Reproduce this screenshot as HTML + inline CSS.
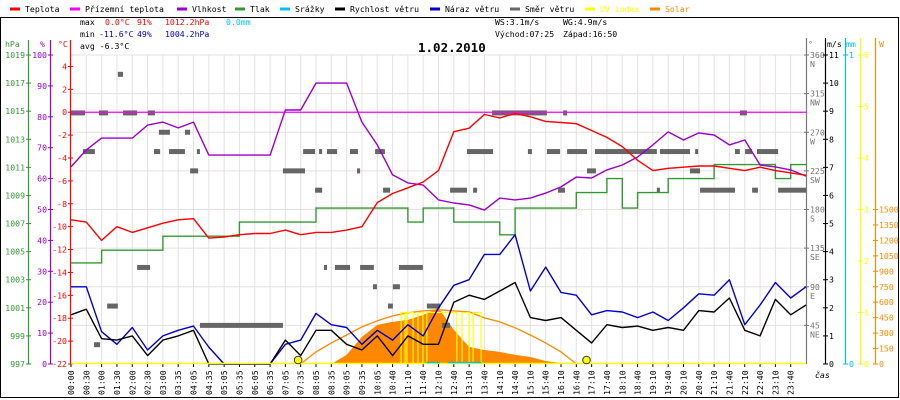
<!DOCTYPE html>
<html><head><meta charset="utf-8"><title>Weather 1.02.2010</title>
<style>
html,body{margin:0;padding:0;background:#fff;}
svg{display:block;font-family:"DejaVu Sans Mono","Liberation Mono",monospace;font-size:8.2px;}
</style></head>
<body>
<svg id="chart" width="900" height="400" viewBox="0 0 900 400" xmlns="http://www.w3.org/2000/svg">
<rect x="0" y="0" width="900" height="400" fill="#fff"/>
<rect x="0.5" y="17.5" width="898" height="380" fill="none" stroke="#000" stroke-width="1"/>
<g id="legend"></g>
<g>
<text x="80" y="25" fill="#000">max</text>
<text x="105" y="25" fill="#f00">0.0°C</text>
<text x="137" y="25" fill="#f00">91%</text>
<text x="165" y="25" fill="#f00">1012.2hPa</text>
<text x="226" y="25" fill="#00bfff">0.0mm</text>
<text x="80" y="37" fill="#000">min</text>
<text x="99" y="37" fill="#00c">-11.6°C</text>
<text x="137" y="37" fill="#00c">49%</text>
<text x="165" y="37" fill="#00c">1004.2hPa</text>
<text x="80" y="49" fill="#000">avg -6.3°C</text>
<text x="495" y="25" fill="#000">WS:3.1m/s</text>
<text x="563" y="25" fill="#000">WG:4.9m/s</text>
<text x="495" y="37" fill="#000">Východ:07:25</text>
<text x="563" y="37" fill="#000">Západ:16:50</text>
</g>
<text x="418" y="52" font-size="12.5px" font-weight="bold" fill="#000">1.02.2010</text>
<g id="grid"></g>
<g id="axes"></g>
<g id="series"></g>
</svg>
<script>
// ---- data (half-hour samples, k = 0..48) ----
const xLabels = ["00:00","00:30","01:00","01:30","02:00","02:30","03:00","03:35","04:05","04:35","05:05","05:35","06:05","06:35","07:05","07:35","08:05","08:35","09:05","09:35","10:05","10:40","11:10","11:40","12:10","12:40","13:10","13:40","14:10","14:40","15:10","15:40","16:10","16:40","17:10","17:40","18:10","18:40","19:10","19:40","20:10","20:40","21:10","21:40","22:10","22:40","23:10","23:40"];
const temperature = [-9.4,-9.6,-11.2,-10.0,-10.5,-10.1,-9.7,-9.4,-9.3,-11.0,-10.9,-10.7,-10.6,-10.6,-10.3,-10.7,-10.5,-10.5,-10.3,-10.0,-7.9,-7.1,-6.6,-6.1,-5.1,-1.7,-1.4,-0.2,-0.5,-0.1,-0.4,-0.8,-0.9,-1.0,-1.6,-2.2,-3.0,-4.2,-5.1,-4.9,-4.8,-4.7,-4.7,-4.9,-5.1,-4.8,-5.1,-5.3,-5.5];
const groundTemp = [0,0];
const humidity = [63.8,69.3,73.1,73.1,73.1,77.3,78.3,76.4,78.3,67.6,67.6,67.6,67.6,67.6,82.2,82.2,90.9,90.9,90.9,78.3,70.9,61.2,58.6,57.9,53.1,52.1,51.5,49.8,53.7,53.1,53.7,55.3,57.3,60.5,60.2,62.8,64.4,67.0,70.9,75.1,72.5,74.8,74.1,70.9,72.5,64.4,63.8,62.8,60.8];
const pressure = [1004.2,1004.2,1005.1,1005.1,1005.1,1005.1,1006.1,1006.1,1006.1,1006.1,1006.1,1007.1,1007.1,1007.1,1007.1,1007.1,1008.1,1008.1,1008.1,1008.1,1008.1,1008.1,1007.1,1008.1,1008.1,1007.1,1007.1,1007.1,1006.2,1008.1,1008.1,1008.1,1008.1,1009.2,1009.2,1010.2,1008.1,1009.2,1009.2,1010.2,1010.2,1010.2,1011.2,1011.2,1011.2,1011.2,1010.2,1011.2,1011.2];
const windSpeed = [1.75,1.95,0.9,0.85,1.0,0.3,0.85,1.0,1.2,0,0,0,0,0,0.85,0.3,1.2,1.2,0.7,0.5,1.0,0.3,1.0,0.7,0.7,2.2,2.45,2.3,2.6,2.9,1.65,1.55,1.65,1.2,0.75,1.4,1.3,1.35,1.2,1.3,1.2,1.9,1.85,2.35,1.2,1.0,2.3,1.75,2.1];
const windGust = [2.75,2.75,1.15,0.7,1.3,0.5,1.0,1.2,1.35,0.6,0,0,0,0,0.7,0.85,1.8,1.4,1.3,0.7,1.2,0.85,1.4,1.0,2.0,2.8,3.0,3.9,3.9,4.6,2.6,3.45,2.55,2.45,1.75,1.9,1.85,1.65,1.85,1.55,2.0,2.5,2.45,3.0,1.4,2.1,2.9,2.35,2.75];
const solar = [0,0,0,0,0,0,0,0,0,0,0,0,0,0,0,0,0,0,88,263,380,409,428,477,545,331,166,136,117,88,68,29,10,0,0,0,0,0,0,0,0,0,0,0,0,0,0,0,0];
const solarMax = [null,null,null,null,null,null,null,null,null,null,null,null,null,null,null,0,117,205,282,360,419,467,497,516,526,516,506,448,409,351,282,205,117,0,null,null,null,null,null,null,null,null,null,null,null,null,null,null,null];
// wind direction segments (hours, degrees)
const dirStart = [1.53,0,0.91,1.70,2.51,2.87,3.72,0.39,2.71,3.20,4.11,3.89,6.92,7.58,8.10,8.36,9.11,9.93,9.34,7.97,10.19,2.16,8.26,8.62,9.44,10.71,9.86,10.51,1.18,10.35,11.62,0.75,4.21,12.11,13.75,16.07,21.84,12.93,14.92,15.54,16.20,17.11,19.23,20.38,21.68,22.01,22.40,16.85,20.21,12.38,13.13,15.90,19.13,20.54,22.24,23.09];
const dirEnd   = [1.70,0.46,1.21,2.16,2.74,3.23,3.89,0.78,2.91,3.72,4.21,4.15,7.64,7.97,8.20,8.69,9.37,10.25,9.44,8.20,10.42,2.58,8.36,9.11,9.89,11.49,9.99,10.74,1.53,10.51,12.05,0.95,6.92,12.38,15.54,16.20,22.07,13.78,15.05,15.97,16.85,19.13,20.21,20.47,21.84,22.24,23.09,17.14,20.54,12.93,13.26,16.13,19.23,21.68,22.43,24.0];
const dirDeg   = [337.5,292.5,292.5,292.5,292.5,270,270,247.5,247.5,247.5,247.5,225,225,247.5,247.5,247.5,247.5,247.5,225,202.5,202.5,112.5,112.5,112.5,112.5,112.5,90,90,67.5,67.5,67.5,22.5,45,45,292.5,292.5,292.5,247.5,247.5,247.5,247.5,247.5,247.5,247.5,247.5,247.5,247.5,225,225,202.5,202.5,202.5,202.5,202.5,202.5,202.5];
const uvStart = [10.78,10.97,11.33,11.62,12.77,13.13];
const uvEnd   = [10.91,11.17,11.49,12.60,13.00,13.39];
const uvValue = [1.0,1.0,1.0,1.0,1.0,1.0];
const rainStart = [11.6,12.3];
const rainEnd = [12.05,13.4];
const sunTimes = [7.417,16.833];
const pressTicks = [1019,1017,1015,1013,1011,1009,1007,1005,1003,1001,999,997];
const humTicks = [100,90,80,70,60,50,40,30,20,10,0];
const tempTicks = [4,2,0,-2,-4,-6,-8,-10,-12,-14,-16,-18,-20,-22];
const dirTicks = [360,315,270,225,180,135,90,45];
const dirNames = ["N","NW","W","SW","S","SE","E","NE"];
const wsTicks = [11,10,9,8,7,6,5,4,3,2,1,0];
const uvTicks = [6,5,4,3,2,1,0];
const solarTicks = [1500,1350,1200,1050,900,750,600,450,300,150,0];

// ---- scales ----
const TOP=55, BOT=364, LEFT=71, RIGHT=806;
const xT = t => LEFT + t*(RIGHT-LEFT)/24;
const xK = k => xT(k/2);
const yT = v => TOP + (5-v)*(BOT-TOP)/27;
const yH = v => TOP + (100-v)*(BOT-TOP)/100;
const yP = v => TOP + (1019-v)*(BOT-TOP)/22;
const yW = v => BOT - v*(BOT-TOP)/11;
const yD = v => BOT - v*(BOT-TOP)/360;
const yUV = v => BOT - v*(BOT-TOP)/6;
const yS = v => BOT - v*(BOT-TOP)/3000;

const NS="http://www.w3.org/2000/svg";
function mk(parent, tag, attrs){const e=document.createElementNS(NS,tag);for(const a in attrs)e.setAttribute(a,attrs[a]);parent.appendChild(e);return e;}
const gGrid=document.getElementById('grid'), gAx=document.getElementById('axes'), gS=document.getElementById('series'), gL=document.getElementById('legend');

// legend
const legNames=["Teplota","Přízemní teplota","Vlhkost","Tlak","Srážky","Rychlost větru","Náraz větru","Směr větru","UV index","Solar"];
const legColors=["#f00","#f0f","#90c","#393","#00bfff","#000","#00c","#666","#ff0","#f80"];
const legX=[10,70,177,235,280,335,430,510,585,650];
legNames.forEach((n,i)=>{
  const g=mk(gL,'g',{});
  
  
  mk(g,'rect',{x:legX[i],y:7.5,width:10,height:3,fill:legColors[i]});
  const t=mk(g,'text',{x:legX[i]+15,y:12,fill:(i>=8?legColors[i]:'#000')});
  t.textContent=n;
});

// grid
for(let k=1;k<48;k++){
  const l=mk(gGrid,'line',{x1:xK(k),x2:xK(k),y1:TOP,y2:BOT,stroke:'#e6e0e0','stroke-width':1});
  
  
}
for(let j=0;j<8;j++){
  const y=TOP+j*(BOT-TOP)/8;
  const l=mk(gGrid,'line',{x1:LEFT,x2:RIGHT,y1:y,y2:y,stroke:'#e6e0e0','stroke-width':1});
  
  
}

// left axes
function axis(x,color,ticks,scale,labelRight,name,top){
  const g=mk(gAx,'g',{});
  
  
  mk(g,'line',{x1:x,x2:x,y1:top,y2:BOT,stroke:color,'stroke-width':1.2});
  ticks.forEach(v=>{
    const y=scale(v);
    mk(g,'line',{x1:x-2.5,x2:x+2.5,y1:y,y2:y,stroke:color,'stroke-width':1});
    const t=mk(g,'text',labelRight?{x:x+3.5,y:y+3,fill:color}:{x:x-3.5,y:y+3,fill:color,'text-anchor':'end'});
    t.textContent=v;
  });
  return g;
}
axis(28.5,'#393',pressTicks,yP,false,'pressure-axis',40);
axis(50.5,'#90c',humTicks,yH,false,'humidity-axis',40);
axis(70.5,'#f00',tempTicks,yT,false,'temperature-axis',40);
[[5,'hPa','#393'],[40,'%','#90c'],[58,'°C','#f00']].forEach(a=>{const t=mk(gAx,'text',{x:a[0],y:47,fill:a[2]});t.textContent=a[1];});

// right axes
const gd=axis(806.5,'#777',dirTicks,yD,true,'direction-axis',38);
dirTicks.forEach((v,i)=>{const t=mk(gd,'text',{x:810,y:yD(v)+12,fill:'#777'});t.textContent=dirNames[i];});
axis(825.5,'#000',wsTicks,yW,true,'wind-speed-axis',38);
const gm=axis(845.5,'#00bfff',[],yW,true,'rain-axis',38);
[[1,TOP],[0,BOT]].forEach(a=>{mk(gm,'line',{x1:843,x2:848,y1:a[1],y2:a[1],stroke:'#00bfff'});const t=mk(gm,'text',{x:849,y:a[1]+3,fill:'#00bfff'});t.textContent=a[0];});
axis(860.5,'#ff0',uvTicks,yUV,true,'uv-axis',38);
axis(875.5,'#f80',solarTicks,yS,true,'solar-axis',38);
[[808,'°','#777'],[827,'m/s','#000'],[846,'mm','#00bfff'],[879,'W','#f80']].forEach(a=>{const t=mk(gAx,'text',{x:a[0],y:47,fill:a[2]});t.textContent=a[1];});

// x labels
xLabels.forEach((s,k)=>{
  const x=xK(k);
  mk(gAx,'line',{x1:x,x2:x,y1:BOT,y2:BOT+3,stroke:'#000'});
  const t=mk(gAx,'text',{x:0,y:0,fill:'#000',transform:'translate('+(x+3)+',395) rotate(-90)'});
  
  
  t.textContent=s;
});
{const t=mk(gAx,'text',{x:815,y:378,fill:'#000','font-style':'italic'});t.textContent='čas';}

// series helpers
function poly(arr,scale,color,name,w){
  const pts=[];arr.forEach((v,k)=>{if(v!==null)pts.push(xK(k).toFixed(1)+','+scale(v).toFixed(1));});
  const p=mk(gS,'polyline',{points:pts.join(' '),fill:'none',stroke:color,'stroke-width':w||1.4,'stroke-linejoin':'round'});
  
  
  return p;
}

// solar filled area
{
  let d='M'+xK(0)+','+BOT;
  solar.forEach((v,k)=>{d+=' L'+xK(k).toFixed(1)+','+yS(v).toFixed(1);});
  d+=' L'+xK(48)+','+BOT+' Z';
  const p=mk(gS,'path',{d:d,fill:'#f80',stroke:'none'});
  
  
}
poly(solarMax,yS,'#f80','solar-max-curve',1.3);

// UV pulses
uvStart.forEach((s,i)=>{
  const x1=xT(s),x2=xT(uvEnd[i]),y=yUV(uvValue[i]);
  const p=mk(gS,'polyline',{points:x1+','+BOT+' '+x1+','+y+' '+x2+','+y+' '+x2+','+BOT,fill:'none',stroke:'#ff0','stroke-width':1.2});
  
  
});

// wind direction bars
dirStart.forEach((s,i)=>{
  const x1=xT(s),x2=xT(dirEnd[i]);
  const r=mk(gS,'rect',{x:x1,y:yD(dirDeg[i])-2.5,width:Math.max(3,x2-x1),height:5,fill:'#666'});
  
  
});

// ground temperature (constant line)
{
  const l=mk(gS,'line',{x1:LEFT,x2:RIGHT,y1:yT(groundTemp[0]),y2:yT(groundTemp[1]),stroke:'#f0f','stroke-width':1.3});
  
  
}

// pressure as steps
{
  let d='M'+xK(0)+','+yP(pressure[0]).toFixed(1);
  for(let k=1;k<pressure.length;k++){d+=' H'+xK(k).toFixed(1)+' V'+yP(pressure[k]).toFixed(1);}
  const p=mk(gS,'path',{d:d,fill:'none',stroke:'#393','stroke-width':1.4});
  
  
}
poly(humidity,yH,'#90c','humidity-line');
poly(temperature,yT,'#f00','temperature-line');
poly(windGust,yW,'#00c','wind-gust-line');
poly(windSpeed,yW,'#000','wind-speed-line');

// rain + baseline
{
  const l=mk(gS,'line',{x1:LEFT,x2:RIGHT,y1:BOT-0.5,y2:BOT-0.5,stroke:'#ff0','stroke-width':1.5});
  
  
}
rainStart.forEach((s,i)=>{
  const l=mk(gS,'line',{x1:xT(s),x2:xT(rainEnd[i]),y1:BOT-1.5,y2:BOT-1.5,stroke:'#00bfff','stroke-width':1.5});
  
  
});
sunTimes.forEach((t,i)=>{
  const c=mk(gS,'circle',{cx:xT(t),cy:BOT-4,r:3.8,fill:'#ff0',stroke:'#333','stroke-width':1});
  
  
});
</script>
</body></html>
